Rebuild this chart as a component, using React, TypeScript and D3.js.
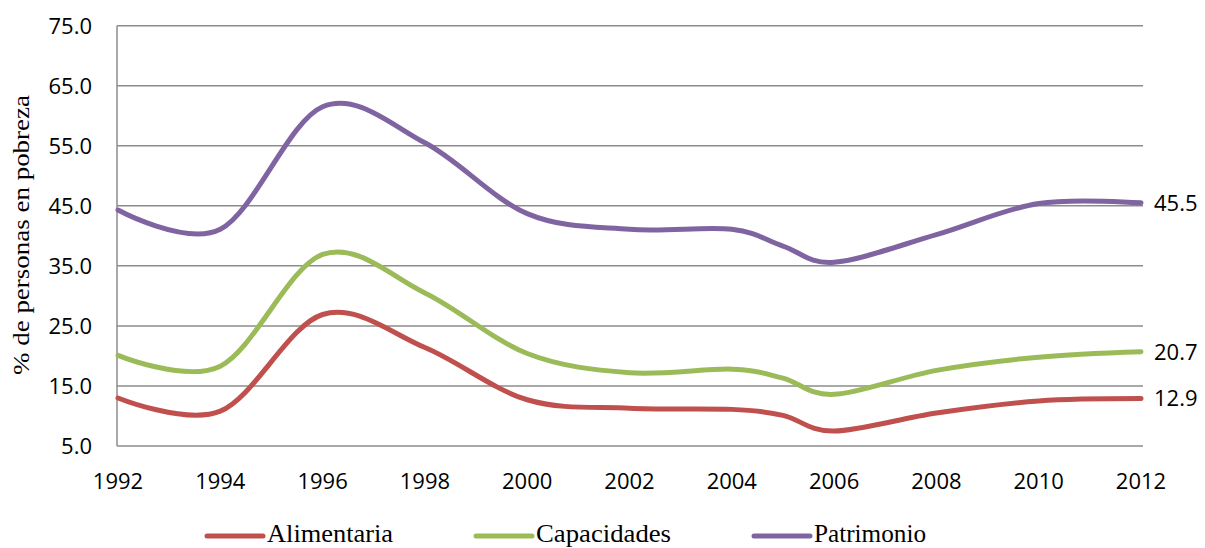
import React from "react";
import * as d3 from "d3";

const years = [1992, 1994, 1996, 1998, 2000, 2002, 2004, 2005, 2006, 2008, 2010, 2012];
const alimentaria = [13.0, 10.8, 26.9, 21.4, 12.7, 11.3, 11.1, 10.1, 7.5, 10.5, 12.5, 12.9];
const capacidades = [20.1, 18.3, 36.9, 30.5, 20.4, 17.2, 17.8, 16.3, 13.6, 17.6, 19.8, 20.7];
const patrimonio = [44.3, 41.1, 61.5, 55.5, 43.7, 41.1, 41.1, 38.3, 35.6, 40.2, 45.4, 45.5];
const yTicks = [5, 15, 25, 35, 45, 55, 65, 75];
const xTicks = [1992, 1994, 1996, 1998, 2000, 2002, 2004, 2006, 2008, 2010, 2012];
const seriesNames = ["Alimentaria", "Capacidades", "Patrimonio"];
const seriesColors = ["#C0504D", "#9BBB59", "#8064A2"];
const yTitle = "% de personas en pobreza";

export default function App() {
  const W = 1205, H = 548;
  const x = d3.scaleLinear().domain([1992, 2012]).range([118, 1141]);
  const y = d3.scaleLinear().domain([5, 75]).range([446, 25.7]);
  const series = [alimentaria, capacidades, patrimonio];
  const line = d3
    .line<[number, number]>()
    .x((d) => x(d[0]))
    .y((d) => y(d[1]))
    .curve(d3.curveCardinal.tension(0));
  const sans = "'Open Sans', sans-serif";
  const serif = "'Liberation Serif', 'Times New Roman', serif";
  const legendX = [207, 476, 754];
  const legendW = [126, 135, 112];
  return (
    <svg
      width={W}
      height={H}
      style={{ position: "absolute", left: 0, top: 0, background: "#fff" }}
    >
      {yTicks.map((t) => (
        <line key={t} x1={117} x2={1143} y1={y(t)} y2={y(t)} stroke="#8c8c8c" strokeWidth={1.5} />
      ))}
      <line x1={117} x2={117} y1={y(75)} y2={y(5)} stroke="#8c8c8c" strokeWidth={1.5} />
      {yTicks.map((t) => (
        <text key={t} x={92} y={y(t) + 7.8} textAnchor="end" fontFamily={sans} fontSize={22} fill="#000">
          {d3.format(".1f")(t)}
        </text>
      ))}
      {xTicks.map((t) => (
        <text key={t} x={x(t)} y={489} textAnchor="middle" fontFamily={sans} fontSize={22} fill="#000">
          {t}
        </text>
      ))}
      <text
        transform={`translate(29,235) rotate(-90)`}
        textAnchor="middle"
        fontFamily={serif}
        fontSize={24}
        textLength={280}
        lengthAdjust="spacingAndGlyphs"
        fill="#000"
      >
        {yTitle}
      </text>
      {series.map((s, i) => (
        <path
          key={i}
          d={line(years.map((yr, j) => [yr, s[j]] as [number, number])) || ""}
          fill="none"
          stroke={seriesColors[i]}
          strokeWidth={5}
          strokeLinecap="round"
        />
      ))}
      {series.map((s, i) => (
        <text
          key={i}
          x={1154}
          y={y(s[s.length - 1]) + 7.8}
          fontFamily={sans}
          fontSize={22}
          fill="#000"
        >
          {s[s.length - 1].toFixed(1)}
        </text>
      ))}
      {seriesNames.map((n, i) => (
        <g key={n}>
          <line
            x1={legendX[i]}
            x2={legendX[i] + 56}
            y1={536}
            y2={536}
            stroke={seriesColors[i]}
            strokeWidth={5}
            strokeLinecap="round"
          />
          <text
            x={legendX[i] + 60}
            y={542}
            fontFamily={serif}
            fontSize={25}
            textLength={legendW[i]}
            lengthAdjust="spacingAndGlyphs"
            fill="#000"
          >
            {n}
          </text>
        </g>
      ))}
    </svg>
  );
}
